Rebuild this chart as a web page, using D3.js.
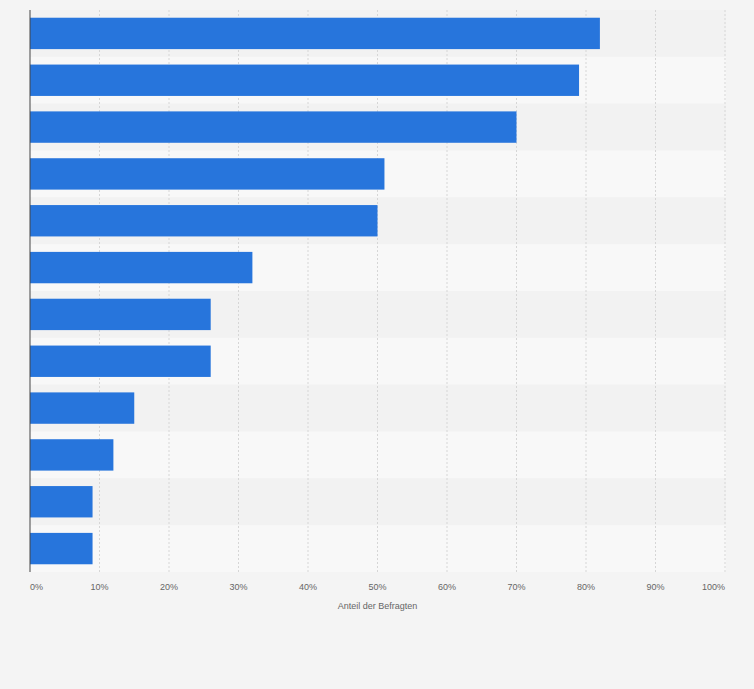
<!DOCTYPE html>
<html><head><meta charset="utf-8">
<script src="https://cdn.jsdelivr.net/npm/d3@7"></script>
<style>body{margin:0;background:#f4f4f4;font-family:Arial,"Liberation Sans",sans-serif}</style>
</head><body><svg id="c" width="754" height="689"></svg>
<script>
const categories = ["A1","A2","A3","A4","A5","A6","A7","A8","A9","A10","A11","A12"];
const values = [82, 79, 70, 51, 50, 32, 26, 26, 15, 12, 9, 9];
const ticks = [0,10,20,30,40,50,60,70,80,90,100];

const svg = d3.select("#c");
const m = {l:30, r:29, t:10, b:117};
const w = 754 - m.l - m.r, h = 689 - m.t - m.b;
const g = svg.append("g").attr("transform", `translate(${m.l},${m.t})`);
const x = d3.scaleLinear().domain([0,100]).range([0,w]);
const y = d3.scaleBand().domain(categories).range([0,h]).paddingInner(0.33).paddingOuter(0.165);
const step = y.step();

g.selectAll(".row").data(categories).join("rect")
  .attr("x",0).attr("width",w+1)
  .attr("y",d=>y(d)-y.step()*y.paddingInner()/2).attr("height",step)
  .attr("fill",(d,i)=>i%2?"#f8f8f8":"#f2f2f2");

g.selectAll(".grid").data(ticks.slice(1)).join("line")
  .attr("x1",d=>x(d)).attr("x2",d=>x(d)).attr("y1",0).attr("y2",h)
  .attr("stroke","#d6d6d6").attr("stroke-dasharray","2,2");

g.selectAll(".bar").data(values).join("rect")
  .attr("x",0).attr("y",(d,i)=>y(categories[i]))
  .attr("width",d=>x(d)).attr("height",y.bandwidth())
  .attr("fill","#2775dc");

g.append("line").attr("x1",0).attr("x2",0).attr("y1",0).attr("y2",h)
  .attr("stroke","#444").attr("stroke-width",1);

g.selectAll(".tl").data(ticks).join("text")
  .attr("x",d=>x(d)).attr("y",h+18)
  .attr("text-anchor",(d,i)=>i===0?"start":i===ticks.length-1?"end":"middle")
  .attr("font-size",9).attr("fill","#666").text(d=>d+"%");

g.append("text").attr("x",w/2).attr("y",h+37).attr("text-anchor","middle")
  .attr("font-size",9).attr("fill","#666").text("Anteil der Befragten");
</script></body></html>
